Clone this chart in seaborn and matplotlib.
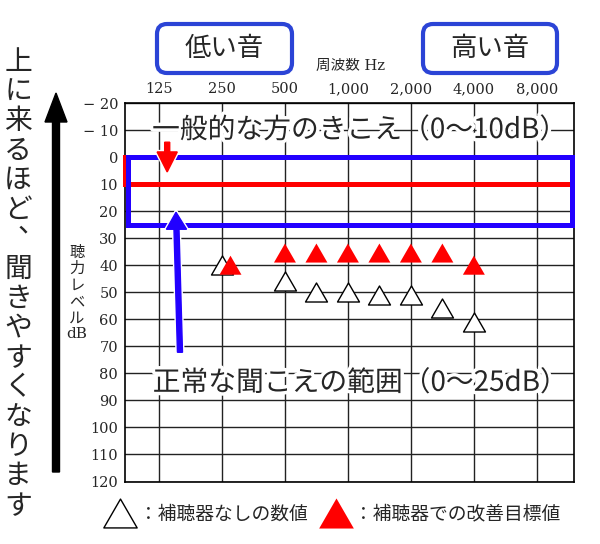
import numpy as np
import pandas as pd
import matplotlib
matplotlib.use('Agg')
import matplotlib.pyplot as plt
import matplotlib.patheffects as pe
from matplotlib.patches import Rectangle, FancyArrow, FancyBboxPatch
from matplotlib.lines import Line2D
from matplotlib.path import Path
import seaborn as sns

# audiogram values (dB HL)
freqs_without = [250, 500, 750, 1000, 1500, 2000, 3000, 4000]
level_without = [40, 46, 50, 50, 51, 51, 56, 61]
freqs_target = [250, 500, 750, 1000, 1500, 2000, 3000, 4000]
level_target = [40, 35.5, 35.5, 35.5, 35.5, 35.5, 35.5, 40]

tick_freqs = [125, 250, 500, 1000, 2000, 4000, 8000]
tick_labels = ['125', '250', '500', '1,000', '2,000', '4,000', '8,000']
level_ticks = list(range(-20, 121, 10))

typical_range = (0, 10)
normal_range = (0, 25)

BLUE = '#2200ff'
BOX_BLUE = '#2b44d6'
# closed triangle, centred on its bounding box
TRI = Path([(0, 0.866), (-1, -0.866), (1, -0.866), (0, 0.866)],
           [Path.MOVETO, Path.LINETO, Path.LINETO, Path.CLOSEPOLY])


def octave_pos(f):
    # audiogram axis: one step per octave, mid-octave freqs halfway
    f = np.asarray(f, dtype=float)
    n = np.floor(np.log2(f / 125) + 1e-9)
    base = 125 * 2 ** n
    return n + (f - base) / base


sns.set_style('white')
plt.rcParams['font.family'] = ['Noto Sans CJK JP', 'DejaVu Sans']

df = pd.DataFrame({
    'freq': freqs_without + freqs_target,
    'level': level_without + level_target,
    'series': ['none'] * len(freqs_without) + ['target'] * len(freqs_target),
})
df['pos'] = octave_pos(df['freq'])
# nudge a target symbol sideways where it would sit on top of the other one
ref = dict(zip(freqs_without, level_without))
clash = (df['series'] == 'target') & (abs(df['level'] - df['freq'].map(ref)) < 5)
df.loc[clash, 'pos'] += 0.135

fig = plt.figure(figsize=(6, 5.44), dpi=100)
ax = fig.add_axes([125 / 600, 62.5 / 544, 449 / 600, 378.5 / 544])

sns.scatterplot(data=df[df['series'] == 'none'], x='pos', y='level', marker=TRI, s=250,
                color='white', edgecolor='black', linewidth=1, zorder=5, ax=ax, legend=False)
sns.scatterplot(data=df[df['series'] == 'target'], x='pos', y='level', marker=TRI, s=250,
                color='red', edgecolor='none', zorder=6, ax=ax, legend=False)

ax.set_xlim(-0.54, 6.59)
ax.set_ylim(120, -20)
ax.set_xlabel('')
ax.set_ylabel('')
ax.set_xticks(octave_pos(tick_freqs))
ax.set_xticklabels(tick_labels)
ax.xaxis.tick_top()
ax.set_yticks(level_ticks)
ax.set_yticklabels([('− %d' % -v) if v < 0 else str(v) for v in level_ticks])
ax.tick_params(length=0, pad=5, labelsize=10.5)
for lab in ax.get_xticklabels() + ax.get_yticklabels():
    lab.set_fontfamily('DejaVu Serif')
ax.grid(True, color='#222222', lw=1.0)
ax.set_axisbelow(True)
for sp in ax.spines.values():
    sp.set_color('black')
    sp.set_linewidth(1.2)

xlo, xhi = ax.get_xlim()
ax.add_patch(Rectangle((xlo, typical_range[0]), xhi - xlo - 0.03, typical_range[1] - typical_range[0],
                       fill=False, ec='red', lw=3.6, clip_on=False, zorder=3))
ax.add_patch(Rectangle((xlo + 0.04, normal_range[0]), xhi - xlo - 0.07, normal_range[1] - normal_range[0],
                       fill=False, ec=BLUE, lw=3.6, clip_on=False, zorder=4))

halo = [pe.withStroke(linewidth=3, foreground='white')]
ax.add_patch(FancyArrow(0.13, -5.5, 0, 11, width=0.08, head_width=0.32, head_length=7.4,
                        length_includes_head=True, color='red', zorder=7, path_effects=halo))
ax.add_patch(FancyArrow(0.333, 72.2, -0.063, -51.8, width=0.08, head_width=0.32, head_length=6.3,
                        length_includes_head=True, color=BLUE, zorder=7, path_effects=halo))

txt_halo = [pe.withStroke(linewidth=5, foreground='white')]
ax.text(-0.11, -10, '一般的な方のきこえ（0～10dB）', fontsize=20, ha='left', va='center',
        path_effects=txt_halo, zorder=8)
ax.text(-0.1, 83.5, '正常な聞こえの範囲（0～25dB）', fontsize=20, ha='left', va='center',
        path_effects=txt_halo, zorder=8)

# left side: big arrow and vertical note
inch = fig.dpi_scale_trans
fig.add_artist(FancyArrow(0.56, 0.72, 0, 3.79, width=0.07, head_width=0.22, head_length=0.29,
                          length_includes_head=True, color='black', transform=inch))
note = '上に来るほど、聞きやすくなります'
for i, ch in enumerate(note):
    y = (544 - (47 + 29.6 * (i + 0.5))) / 100
    x = 0.18
    if ch == '、':
        # vertical writing: comma sits in the upper right of its cell
        x, y = x + 0.13, y + 0.16
    fig.text(x, y, ch, fontsize=20, ha='center', va='center', transform=inch)

ylab = ['聴', '力', 'レ', 'ベ', 'ル', 'dB']
for i, ch in enumerate(ylab):
    fig.text(0.77, (544 - (252 + 16.5 * i)) / 100, ch, fontsize=11, ha='center', va='center',
             family=['DejaVu Serif', 'Noto Sans CJK JP'] if ch == 'dB' else ['Noto Sans CJK JP'],
             transform=inch)

fig.text(3.50, (544 - 66) / 100, '周波数 Hz', fontsize=10.5, ha='center', va='center',
         family=['DejaVu Serif', 'Noto Sans CJK JP'], transform=inch)

for x0, w, label in [(1.57, 1.35, '低い音'), (4.23, 1.34, '高い音')]:
    fig.add_artist(FancyBboxPatch((x0, 4.71), w, 0.49, boxstyle='round,pad=0,rounding_size=0.1',
                                  fc='white', ec=BOX_BLUE, lw=3, transform=inch))
    fig.text(x0 + w / 2, 4.955, label, fontsize=19, ha='center', va='center', transform=inch)

h1 = Line2D([], [], marker=TRI, ls='none', markersize=24, mfc='white', mec='black', mew=1)
h2 = Line2D([], [], marker=TRI, ls='none', markersize=25, mfc='red', mec='none')
fig.legend([h1, h2], ['：補聴器なしの数値', '：補聴器での改善目標値'], ncol=2, loc='center',
           bbox_to_anchor=(332 / 600, 1 - 514 / 544), frameon=False, fontsize=13.5,
           handlelength=1.8, handletextpad=0.1, columnspacing=0.6, borderpad=0)

fig.savefig('out.png', dpi=100, facecolor='white')
